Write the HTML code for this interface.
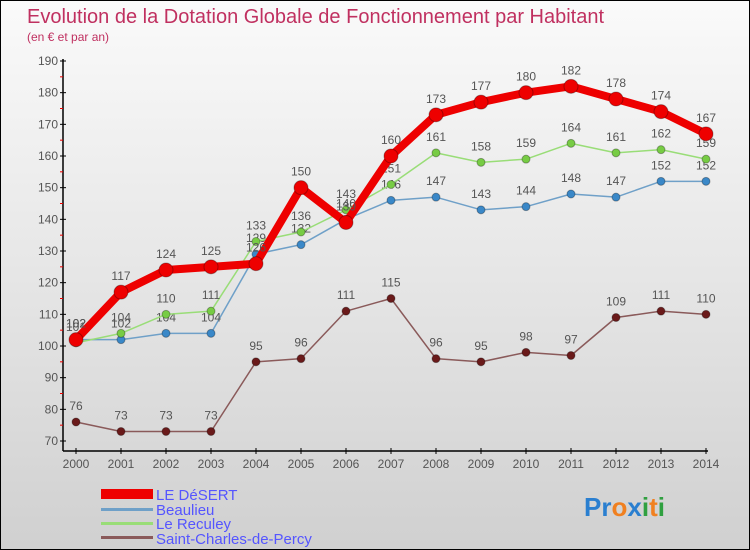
<!DOCTYPE html>
<html><head><meta charset="utf-8"><style>
body{margin:0}
#c{width:750px;height:550px;position:relative;overflow:hidden;box-sizing:border-box;border:1px solid #000;background:linear-gradient(#fafafa,#e6e6e6 50%,#d0d0d0);font-family:"Liberation Sans",sans-serif}
</style></head><body>
<div id="c">
<svg id="s" width="750" height="550" style="position:absolute;left:0;top:0">
<text x="26" y="22" font-size="20" fill="#c03060">Evolution de la Dotation Globale de Fonctionnement par Habitant</text>
<text x="26" y="40" font-size="12" fill="#c03060">(en € et par an)</text>
<g id="ax"></g><g id="ser"></g>
<g>
<rect x="100" y="488" width="52" height="10" fill="#e00"/>
<text x="155" y="499" font-size="15" fill="#5555ff">LE DéSERT</text>
<rect x="100" y="507" width="52" height="3" fill="#6fa0c8"/>
<text x="155" y="514" font-size="15" fill="#5555ff">Beaulieu</text>
<rect x="100" y="521" width="52" height="3" fill="#99dd77"/>
<text x="155" y="528" font-size="15" fill="#5555ff">Le Reculey</text>
<rect x="100" y="535" width="52" height="3" fill="#8a5a5a"/>
<text x="155" y="543" font-size="15" fill="#5555ff">Saint-Charles-de-Percy</text>
</g>
<text x="583" y="515" font-size="26" font-weight="bold"><tspan fill="#2a7fd0">Pr</tspan><tspan fill="#f08020">o</tspan><tspan fill="#2a7fd0">x</tspan><tspan fill="#30a040">i</tspan><tspan fill="#f08020">t</tspan><tspan fill="#30a040">i</tspan></text>
</svg>
</div>
<script>
const years=[2000,2001,2002,2003,2004,2005,2006,2007,2008,2009,2010,2011,2012,2013,2014];
const desert=[102,117,124,125,126,150,139,160,173,177,180,182,178,174,167];
const beaulieu=[102,102,104,104,129,132,140,146,147,143,144,148,147,152,152];
const reculey=[101,104,110,111,133,136,143,151,161,158,159,164,161,162,159];
const stcharles=[76,73,73,73,95,96,111,115,96,95,98,97,109,111,110];
const yTicks=[70,80,90,100,110,120,130,140,150,160,170,180,190];
const NS="http://www.w3.org/2000/svg";
const X=i=>75+i*(705-75)/(years.length-1);
const Y=v=>440-(v-70)*(380/120);
function mk(t,a,p){const e=document.createElementNS(NS,t);for(const k in a)e.setAttribute(k,a[k]);p.appendChild(e);return e;}
const ax=document.getElementById('ax');
let l=mk('line',{x1:62,y1:58,x2:62,y2:450,stroke:'#000','stroke-width':1.5},ax);


l=mk('line',{x1:62,y1:450,x2:707,y2:450,stroke:'#000','stroke-width':1.5},ax);


yTicks.forEach(v=>{
 mk('line',{x1:59,x2:65,y1:Y(v),y2:Y(v),stroke:'#000'},ax);
 if(v<190)mk('line',{x1:59,x2:62,y1:Y(v+5),y2:Y(v+5),stroke:'#e00'},ax);
 const t=mk('text',{x:57,y:Y(v)+4,'font-size':12,fill:'#555','text-anchor':'end'},ax);t.textContent=v;
 
 
});
years.forEach((y,i)=>{
 mk('line',{x1:X(i),x2:X(i),y1:447,y2:453,stroke:'#000'},ax);
 const t=mk('text',{x:X(i),y:467,'font-size':12,fill:'#555','text-anchor':'middle'},ax);t.textContent=y;
 
 
});
const ser=document.getElementById('ser');
function draw(vals,color,w,r,name,mc){
 const g=mk('g',{},ser);
 
 
 const p=mk('polyline',{points:vals.map((v,i)=>X(i)+','+Y(v)).join(' '),fill:'none',stroke:color,'stroke-width':w,'stroke-linejoin':'round'},g);
 
 
 vals.forEach((v,i)=>{
  const c=mk('circle',{cx:X(i),cy:Y(v),r:r,fill:mc,stroke:'rgba(0,0,0,0.3)'},g);
  
  
  const t=mk('text',{x:X(i),y:Y(v)-12,'font-size':12,fill:'#555','text-anchor':'middle'},g);t.textContent=v;
  
  
 });
}
draw(stcharles,'#8a5a5a',1.5,4,'saint-charles','#6a1a1a');
draw(beaulieu,'#6fa0c8',1.5,4,'beaulieu','#3a88c8');
draw(reculey,'#99dd77',1.5,4,'reculey','#77cc44');
draw(desert,'#ee0000',8,7,'desert','#ee0000');
</script>
</body></html>
